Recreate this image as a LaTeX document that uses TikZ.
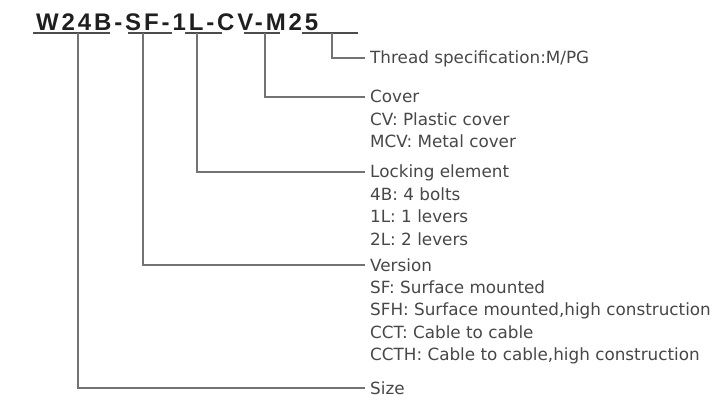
\documentclass[tikz,border=0pt]{standalone}
\usepackage{fontspec}
\setmainfont{DejaVu Sans}
\newfontfamily\codefont{Liberation Sans Bold}[LetterSpace=12]
\usetikzlibrary{positioning}

\begin{document}
\begin{tikzpicture}[
  x=1pt, y=-1pt,
  code/.style={anchor=base west, inner sep=0pt, text=black!88, font=\codefont\fontsize{24}{24}\selectfont},
  desc/.style={anchor=base west, inner xsep=5pt, inner ysep=0pt, text=black!72, font=\fontsize{16.8}{22.4}\selectfont},
  underline/.style={draw=black!70, line width=1.2pt},
  leader/.style={draw=black!55, line width=1.1pt},
]
\useasboundingbox (0,0) rectangle (715,401);

% order code, with one underline per field
\node[code] (code) at (36,31) {W24B-SF-1L-CV-M25};
\draw[underline] (33,33) -- (110,33);
\draw[underline] (128,33) -- (172,33);
\draw[underline] (185,33) -- (222,33);
\draw[underline] (244,33) -- (280,33);
\draw[underline] (302,33) -- (358,33);

% taps where the leaders leave the underlines
\coordinate (size-tap) at (78,33);
\coordinate (version-tap) at (143,33);
\coordinate (lock-tap) at (197,33);
\coordinate (cover-tap) at (265,33);
\coordinate (thread-tap) at (332,33);

% field descriptions -- [t] tabulars so the base anchor sits on the first line
\node[desc] (thread) at (365,64) {Thread specification:M/PG};
\node[desc] (cover) at (365,103) {\begin{tabular}[t]{@{}l@{}}Cover\\CV: Plastic cover\\MCV: Metal cover\end{tabular}};
\node[desc] (lock) at (365,178) {\begin{tabular}[t]{@{}l@{}}Locking element\\4B: 4 bolts\\1L: 1 levers\\2L: 2 levers\end{tabular}};
\node[desc] (version) at (365,271) {\begin{tabular}[t]{@{}l@{}}Version\\SF: Surface mounted\\SFH: Surface mounted,high construction\\CCT: Cable to cable\\CCTH: Cable to cable,high construction\end{tabular}};
\node[desc] (size) at (365,394) {Size};

% leaders
\draw[leader] (thread-tap) |- ([yshift=6pt]thread.base west);
\draw[leader] (cover-tap) |- ([yshift=6pt]cover.base west);
\draw[leader] (lock-tap) |- ([yshift=6pt]lock.base west);
\draw[leader] (version-tap) |- ([yshift=6pt]version.base west);
\draw[leader] (size-tap) |- ([yshift=6pt]size.base west);

\end{tikzpicture}
\end{document}
